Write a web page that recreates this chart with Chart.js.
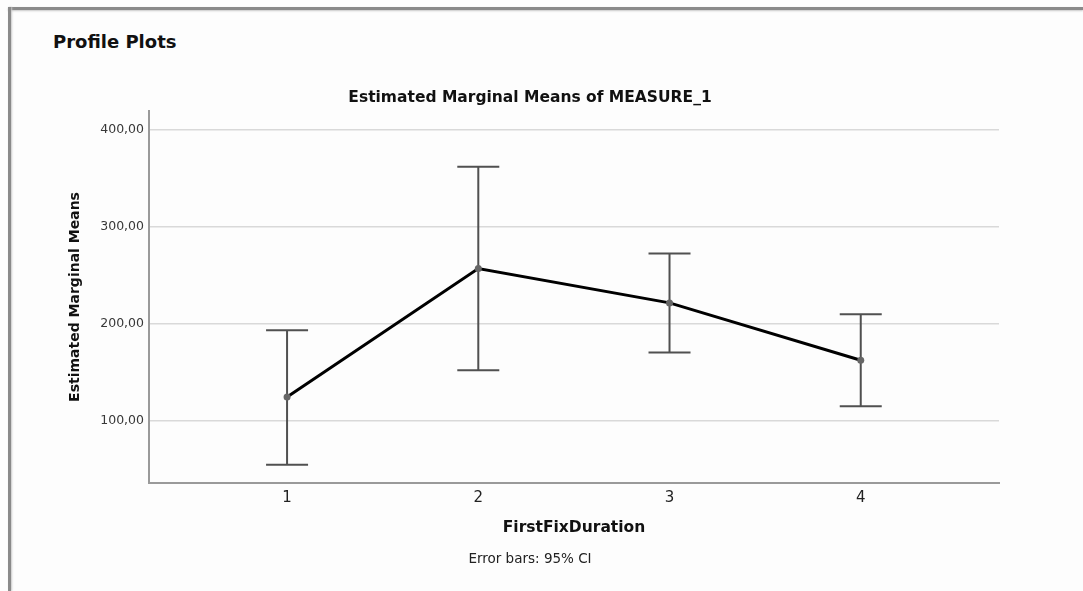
<!DOCTYPE html>
<html>
<head>
<meta charset="utf-8">
<script src="https://cdn.jsdelivr.net/npm/chart.js@4.4.1/dist/chart.umd.min.js"></script>
<style>
    body { margin: 0; background: #fdfdfd; font-family: 'DejaVu Sans', sans-serif; }
    #wrap { position: relative; width: 1083px; height: 591px; overflow: hidden; }
    #frame-top { position: absolute; left: 8px; top: 7px; right: 0; height: 3px; background: #8a8a8a; box-shadow: 0 1px 2px #c8c8c8; }
    #frame-left { position: absolute; left: 8px; top: 7px; bottom: 0; width: 3px; background: #8a8a8a; box-shadow: 1px 0 2px #c8c8c8; }
    #heading { position: absolute; left: 53px; top: 31px; font-size: 18px; font-weight: bold; color: #111; line-height: 22px; }
    #chart-box { position: absolute; left: 0; top: 0; width: 1083px; height: 591px; }
</style>
</head>
<body>
<div id="wrap">
    <div id="frame-top"></div>
    <div id="frame-left"></div>
    <div id="heading">Profile Plots</div>
    <div id="chart-box"><canvas id="profile"></canvas></div>
</div>
<script>
// ── Data ────────────────────────────────────────────────────────
const categories = [1, 2, 3, 4];
const means = [124.6, 256.8, 221.4, 162.4];
const ciLower = [55.0, 152.1, 170.3, 115.0];
const ciUpper = [193.3, 361.5, 272.3, 209.8];
const yTicks = [100, 200, 300, 400];

const FONT = "'DejaVu Sans', sans-serif";

function formatComma(v) {
    return v.toFixed(2).replace('.', ',');
}

// ── Error bars (95% CI) ─────────────────────────────────────────
const errorBars = {
    id: 'errorBars',
    beforeDatasetsDraw(chart) {
        const { ctx, scales: { x, y } } = chart;
        const cap = 21;
        ctx.save();
        ctx.strokeStyle = '#505050';
        ctx.lineWidth = 2;
        categories.forEach((c, i) => {
            const px = x.getPixelForValue(c);
            const lo = y.getPixelForValue(ciLower[i]);
            const hi = y.getPixelForValue(ciUpper[i]);
            ctx.beginPath();
            ctx.moveTo(px, lo); ctx.lineTo(px, hi);
            ctx.moveTo(px - cap, lo); ctx.lineTo(px + cap, lo);
            ctx.moveTo(px - cap, hi); ctx.lineTo(px + cap, hi);
            ctx.stroke();
        });
        ctx.restore();
    }
};

new Chart(document.getElementById('profile'), {
    type: 'line',
    data: {
        datasets: [{
            label: 'MEASURE_1',
            data: categories.map((c, i) => ({ x: c, y: means[i] })),
            borderColor: '#000',
            borderWidth: 3,
            pointRadius: 3.5,
            pointBackgroundColor: '#666',
            pointBorderWidth: 0,
            tension: 0,
        }],
    },
    options: {
        responsive: true,
        maintainAspectRatio: false,
        animation: false,
        layout: { padding: { left: 61, right: 84, top: 0, bottom: 0 } },
        plugins: {
            legend: { display: false },
            tooltip: { enabled: false },
            title: {
                display: true,
                text: 'Estimated Marginal Means of MEASURE_1',
                color: '#111',
                font: { family: FONT, size: 15.5, weight: 'bold' },
                padding: { top: 88.7, bottom: 3.7 },
            },
            subtitle: {
                display: true,
                position: 'bottom',
                text: 'Error bars: 95% CI',
                color: '#222',
                font: { family: FONT, size: 13.5 },
                padding: { top: 8.4, bottom: 23.4 },
            },
        },
        scales: {
            x: {
                type: 'linear',
                min: 0.278,
                max: 4.723,
                afterFit: (s) => { s.height = 60; },
                grid: { display: false, drawTicks: false },
                border: { display: true, color: '#9a9a9a', width: 2 },
                ticks: {
                    stepSize: 1,
                    includeBounds: false,
                    padding: 6,
                    color: '#222',
                    font: { family: FONT, size: 15 },
                    callback: (v) => categories.includes(v) ? String(v) : '',
                },
                title: {
                    display: true,
                    text: 'FirstFixDuration',
                    color: '#111',
                    font: { family: FONT, size: 15.5, weight: 'bold' },
                    padding: { top: 0, bottom: 5.7 },
                },
            },
            y: {
                min: 36.1,
                max: 418.8,
                afterFit: (s) => { s.width = 88; },
                afterBuildTicks: (s) => { s.ticks = yTicks.map(v => ({ value: v })); },
                grid: { color: '#d9d9d9', lineWidth: 1.5, drawTicks: false },
                border: { display: true, color: '#9a9a9a', width: 2 },
                ticks: {
                    padding: 5,
                    color: '#383838',
                    font: { family: FONT, size: 12.5 },
                    callback: (v) => formatComma(v),
                },
                title: {
                    display: true,
                    text: 'Estimated Marginal Means',
                    color: '#111',
                    font: { family: FONT, size: 14, weight: 'bold' },
                    padding: { top: 5.6, bottom: 0 },
                },
            },
        },
    },
    plugins: [errorBars],
});
</script>
</body>
</html>
